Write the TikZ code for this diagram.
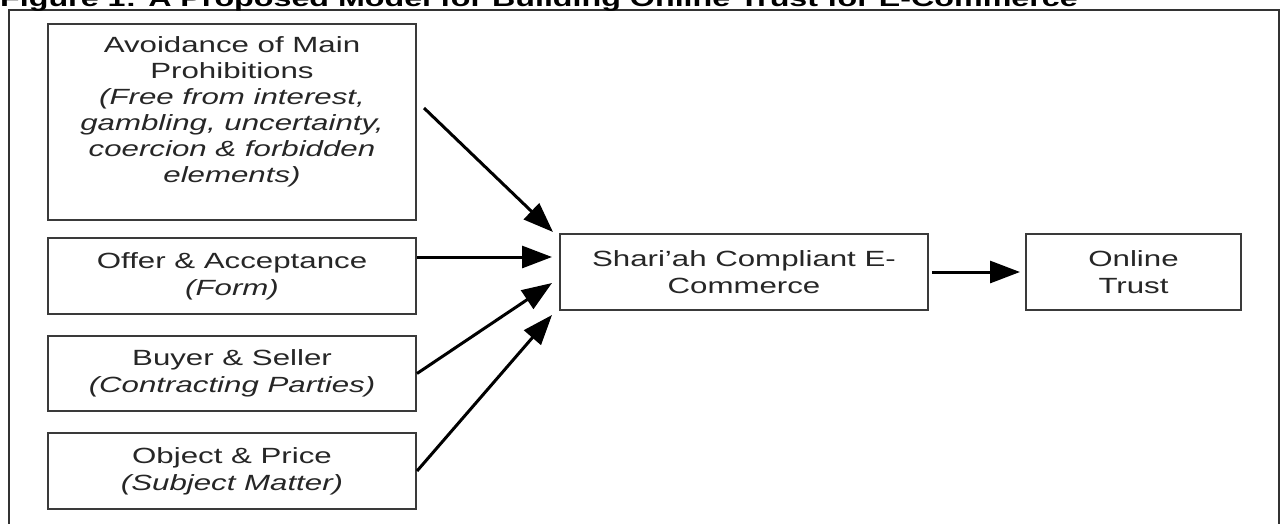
\documentclass[tikz,border=0pt]{standalone}
\usepackage{fontspec}
\setmainfont{Liberation Sans}[FakeStretch=1.42]
\usetikzlibrary{arrows.meta,calc}
\definecolor{boxgray}{HTML}{3A3A3A}
\begin{document}
\begin{tikzpicture}[x=1pt,y=-1pt,
  box/.style={draw=boxgray, line width=2pt, minimum width=368pt, align=center,
    font=\fontsize{22}{27}\selectfont, inner sep=0pt, text=black!85},
  txt/.style={align=center, font=\fontsize{22}{26}\selectfont, inner sep=0pt, text=black!85},
  arr/.style={line width=3pt, -{Triangle[length=30pt,width=22pt]}}]
\useasboundingbox (0,0) rectangle (1280,523);
\clip (0,0) rectangle (1280,523);
\fill[white] (0,0) rectangle (1280,523);
% frame
\draw[line width=1.5pt, draw=black!80] (9,10) rectangle (1279,560);
% title
\node[anchor=base west, inner sep=0pt, font=\bfseries\fontsize{22.7}{26}\selectfont] (title) at (0,6.5)
  {Figure 1: A Proposed Model for Building Online Trust for E-Commerce};
% boxes
\node[box, minimum height=196pt] (avoid) at (232,122) {};
\node[txt] (avoidtxt) at (232,112) {Avoidance of Main\\Prohibitions\\\textit{(Free from interest,}\\\textit{gambling, uncertainty,}\\\textit{coercion \& forbidden}\\\textit{elements)}};
\node[box, minimum height=76pt] (offer) at (232,276) {Offer \& Acceptance\\\textit{(Form)}};
\node[box, minimum height=75pt] (buyer) at (232,373.5) {Buyer \& Seller\\\textit{(Contracting Parties)}};
\node[box, minimum height=76pt] (object) at (232,471) {Object \& Price\\\textit{(Subject Matter)}};
\node[box, minimum height=76pt] (shariah) at (744,272) {Shari’ah Compliant E-\\Commerce};
\node[box, minimum width=215pt, minimum height=76pt] (trust) at (1133.5,272) {Online\\Trust};
% arrow end points
\coordinate (a1s) at (424,108);
\coordinate (in1) at ($(shariah.west)+(-6,-40)$);
\coordinate (in2) at ($(shariah.west)+(-7,-15)$);
\coordinate (in3) at ($(shariah.west)+(-7,11)$);
\coordinate (in4) at ($(shariah.west)+(-7,43)$);
% arrows
\draw[arr] (a1s) -- (in1);
\draw[arr] (offer.east |- in2) -- (in2);
\draw[arr] (buyer.east) -- (in3);
\draw[arr] (object.east) -- (in4);
\draw[arr, shorten <=3pt, shorten >=5pt] (shariah.east) -- (trust.west);
\end{tikzpicture}
\end{document}
